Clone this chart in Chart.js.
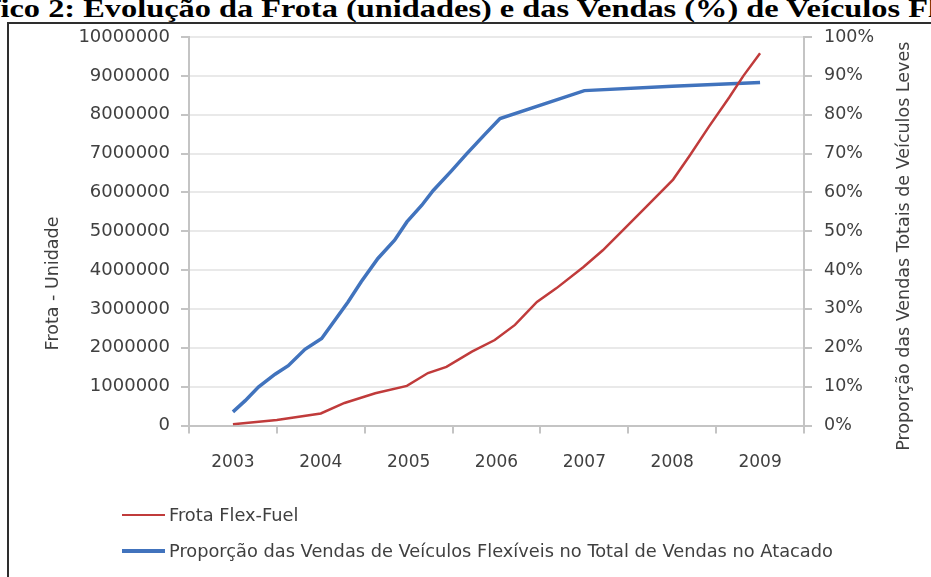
<!DOCTYPE html>
<html>
<head>
<meta charset="utf-8">
<script src="https://cdn.jsdelivr.net/npm/chart.js@4.4.1/dist/chart.umd.min.js"></script>
<style>
  html, body { margin: 0; padding: 0; background: #fff; width: 931px; height: 577px; overflow: hidden; }
  #title {
    position: absolute; left: -66px; top: -4px;
    font: bold 26px "Liberation Serif", "Times New Roman", serif; line-height: 26px;
    white-space: nowrap; color: #000;
    transform: scaleX(1.245); transform-origin: 0 0;
  }
  #frame { position: absolute; left: 7px; top: 22px; width: 1000px; height: 700px; border: 2px solid #2e2e2e; }
  #chart { position: absolute; left: 0; top: 0; }
  .leg { position: absolute; left: 0; font: 17.8px "DejaVu Sans", sans-serif; color: #404040; white-space: nowrap; }
  .leg .sw { position: absolute; left: 122px; width: 43px; }
  .leg .tx { position: absolute; left: 169px; line-height: 20px; }
</style>
</head>
<body>
<div id="title">Gráfico 2: Evolução da Frota (unidades) e das Vendas (%) de Veículos Flex-Fuel</div>
<div id="frame"></div>
<canvas id="chart" width="931" height="577"></canvas>
<div id="legend"></div>
<script>
// categorias do eixo x
const years = ['2003', '2004', '2005', '2006', '2007', '2008', '2009'];

// Frota Flex-Fuel (unidades) - tempo em anos decimais
const fleetTime = [2003.0, 2003.5, 2004.0, 2004.27, 2004.44, 2004.62, 2004.98, 2005.22, 2005.43, 2005.72,
  2005.98, 2006.21, 2006.46, 2006.68, 2006.99, 2007.21, 2007.44, 2007.74, 2008.01, 2008.2,
  2008.42, 2008.65, 2008.81, 2009.0];
const fleetUnits = [30000, 140000, 310000, 580000, 700000, 830000, 1020000, 1350000, 1510000, 1900000,
  2200000, 2590000, 3180000, 3530000, 4080000, 4510000, 5030000, 5710000, 6330000, 6950000,
  7700000, 8450000, 9000000, 9580000];

// Proporção das vendas (%)
const shareTime = [2003.0, 2003.14, 2003.29, 2003.48, 2003.63, 2003.82, 2004.01, 2004.16, 2004.31, 2004.46,
  2004.65, 2004.84, 2004.98, 2005.15, 2005.28, 2005.49, 2005.66, 2005.87, 2006.04, 2007.0,
  2008.0, 2009.0];
const sharePct = [3.5, 6.4, 9.9, 13.2, 15.4, 19.6, 22.4, 27.1, 31.8, 37.0,
  43.0, 47.7, 52.4, 56.7, 60.5, 65.6, 69.9, 75.0, 79.0, 86.2,
  87.3, 88.3];

const FONT = '"DejaVu Sans", sans-serif';
const TXT = '#404040';
const AXIS = '#c4c4c4';
const GRID = '#e9e9e9';

// títulos dos eixos, desenhados à mão para ficar na mesma posição do original
const axisTitles = {
  id: 'axisTitles',
  afterDraw(chart) {
    const { ctx, chartArea } = chart;
    ctx.save();
    ctx.font = '17.5px ' + FONT;
    ctx.fillStyle = TXT;
    ctx.textAlign = 'center';
    ctx.textBaseline = 'middle';

    ctx.save();
    ctx.translate(chartArea.left - 136, chartArea.bottom - 142);
    ctx.rotate(-Math.PI / 2);
    ctx.fillText('Frota - Unidade', 0, 0);
    ctx.restore();

    ctx.save();
    ctx.translate(chartArea.right + 100, (chartArea.top + chartArea.bottom) / 2 + 15);
    ctx.rotate(-Math.PI / 2);
    ctx.fillText('Proporção das Vendas Totais de Veículos Leves', 0, 0);
    ctx.restore();

    ctx.restore();
  }
};

const chart = new Chart(document.getElementById('chart'), {
  type: 'line',
  data: {
    labels: years,
    datasets: [
      {
        label: 'Frota Flex-Fuel',
        data: fleetTime.map((t, i) => ({ x: t, y: fleetUnits[i] })),
        xAxisID: 'xd', yAxisID: 'y',
        borderColor: '#c03b3b', backgroundColor: '#c03b3b',
        borderWidth: 2.5, pointRadius: 0, tension: 0
      },
      {
        label: 'Proporção das Vendas de Veículos Flexíveis no Total de Vendas no Atacado',
        data: shareTime.map((t, i) => ({ x: t, y: sharePct[i] })),
        xAxisID: 'xd', yAxisID: 'y1',
        borderColor: '#4173bd', backgroundColor: '#4173bd',
        borderWidth: 3.5, pointRadius: 0, tension: 0
      }
    ]
  },
  options: {
    responsive: false,
    animation: false,
    layout: { padding: { top: 37, left: 0, right: 0, bottom: 0 } },
    plugins: { legend: { display: false }, tooltip: { enabled: false } },
    scales: {
      x: {
        type: 'category',
        offset: true,
        grid: { offset: true, drawOnChartArea: false, tickLength: 8, color: AXIS, lineWidth: 2 },
        border: { color: AXIS, width: 2 },
        ticks: { font: { family: FONT, size: 17 }, color: TXT, padding: 19, maxRotation: 0 },
        afterFit: s => { s.height = 151.5; }
      },
      xd: { type: 'linear', display: false, min: 2002.5, max: 2009.5 },
      y: {
        position: 'left',
        min: 0, max: 10000000,
        ticks: { stepSize: 1000000, font: { family: FONT, size: 18 }, color: TXT, padding: 11,
          callback: v => String(v) },
        grid: { color: GRID, lineWidth: 2, tickLength: 8, tickColor: AXIS },
        border: { color: AXIS, width: 2 },
        afterFit: s => { s.width = 189; }
      },
      y1: {
        position: 'right',
        min: 0, max: 100,
        ticks: { stepSize: 10, font: { family: FONT, size: 17.5 }, color: TXT, padding: 12,
          callback: v => v + '%' },
        grid: { drawOnChartArea: false, tickLength: 8, tickColor: AXIS, lineWidth: 2 },
        border: { color: AXIS, width: 2 },
        afterFit: s => { s.width = 127; }
      }
    }
  },
  plugins: [axisTitles]
});

// legenda em HTML, uma linha por série
const legend = document.getElementById('legend');
chart.data.datasets.forEach((ds, i) => {
  const row = document.createElement('div');
  row.className = 'leg';
  const y = 515 + i * 36;
  const sw = document.createElement('div');
  sw.className = 'sw';
  sw.style.top = (y - ds.borderWidth / 2) + 'px';
  sw.style.height = ds.borderWidth + 'px';
  sw.style.background = ds.borderColor;
  const tx = document.createElement('div');
  tx.className = 'tx';
  tx.style.top = (y - 10) + 'px';
  tx.textContent = ds.label;
  row.appendChild(sw);
  row.appendChild(tx);
  legend.appendChild(row);
});
</script>
</body>
</html>
